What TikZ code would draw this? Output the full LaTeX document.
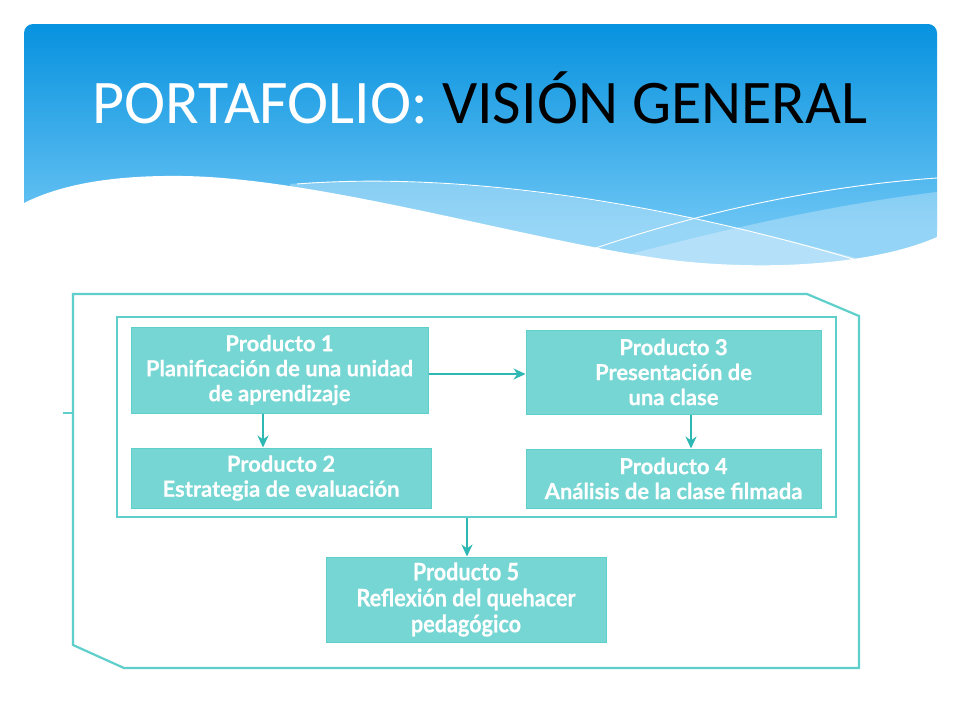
\documentclass[tikz,border=0pt]{standalone}
\usepackage{fontspec}
\setmainfont{Lato}
\newfontfamily\titlefont{Carlito}
\newfontfamily\boxfont[FakeBold=0.5]{Lato}
\newfontfamily\condfont[FakeStretch=0.9,FakeBold=0.5]{Lato}
\usetikzlibrary{arrows.meta}
\definecolor{boxfill}{HTML}{75D6D3}
\definecolor{frameline}{HTML}{5ECFCB}
\definecolor{arrowcol}{HTML}{2EB8B3}
\definecolor{skytop}{HTML}{0792DF}
\definecolor{skybot}{HTML}{6CC5F4}
\tikzset{
  prodbox/.style={fill=boxfill, draw=frameline, line width=1pt, text=white, align=center,
    font=\boxfont\fontsize{22}{25}\selectfont\bfseries, inner sep=0pt},
  framebox/.style={draw=frameline, line width=2.2pt},
  arr/.style={draw=arrowcol, line width=2.4pt, -{Stealth[length=12pt,width=11pt]}},
}
\begin{document}
\begin{tikzpicture}[x=1pt,y=-1pt]
\useasboundingbox (0,0) rectangle (960,720);
\fill[white] (0,0) rectangle (960,720);
% header
\begin{scope}
  \clip[rounded corners=9pt] (24,24) -- (937,24) -- (937,290) [sharp corners] -- (937,290) -- (24,290) [rounded corners=9pt] -- cycle;
  \shade[top color=skytop, bottom color=skybot] (24,24) rectangle (937,230);
  \fill[skybot] (24,229) rectangle (937,272);
  % light bands
  \fill[white, opacity=0.3] (290,184) .. controls (450,172) and (650,200) .. (870,262) -- (700,280) -- (300,230) -- cycle;
  \fill[white, opacity=0.28] (600,262) .. controls (720,230) and (830,205) .. (937,192) -- (937,280) -- cycle;
  % thin white lines
  \draw[white, line width=0.9pt] (297,184) .. controls (450,172) and (650,198) .. (863,262);
  \draw[white, line width=0.9pt] (590,250) .. controls (700,212) and (820,186) .. (937,178);
  % white wave
  \fill[white] (24,203) .. controls (60,185) and (110,175) .. (183,176)
     .. controls (330,178) and (560,250) .. (690,262)
     .. controls (800,272) and (890,258) .. (937,237) -- (937,295) -- (24,295) -- cycle;
\end{scope}
\node[anchor=base, inner sep=0pt, font=\titlefont\fontsize{62}{62}\selectfont] (title) at (480,123)
  {\textcolor{white}{PORTAFOLIO:} \textcolor{black}{VISIÓN GENERAL}};
% frames
\draw[framebox] (73,294) -- (807,294) -- (859,316) -- (859,668) -- (124,668) -- (73,645) -- cycle;
\draw[framebox] (63,413) -- (73,413);
\node[framebox, minimum width=719pt, minimum height=200pt, inner sep=0pt] (inner) at (476.5,417) {};
% boxes
\node[prodbox, minimum width=297pt, minimum height=86pt] (b1) at (279.5,370) {Producto 1\\Planificación de una unidad\\de aprendizaje};
\node[prodbox, minimum width=300pt, minimum height=60pt] (b2) at (281,478) {Producto 2\\Estrategia de evaluación};
\node[prodbox, minimum width=295pt, minimum height=84pt] (b3) at (673.5,372) {Producto 3\\Presentación de\\una clase};
\node[prodbox, minimum width=295pt, minimum height=59pt] (b4) at (673.5,478.5) {Producto 4\\Análisis de la clase filmada};
\node[prodbox, font=\condfont\fontsize{24}{26}\selectfont\bfseries, minimum width=280pt, minimum height=85pt] (b5) at (466,599.5) {Producto 5\\Reflexión del quehacer\\pedagógico};
% arrows
\coordinate (c12) at (263,0);
\coordinate (c13) at (0,374);
\coordinate (c34) at (691,0);
\coordinate (c5) at (467,0);
\draw[arr] (c12 |- b1.south) -- (c12 |- b2.north);
\draw[arr] (b1.east |- c13) -- (b3.west |- c13);
\draw[arr] (c34 |- b3.south) -- (c34 |- b4.north);
\draw[arr] (c5 |- inner.south) -- (c5 |- b5.north);
\end{tikzpicture}
\end{document}
